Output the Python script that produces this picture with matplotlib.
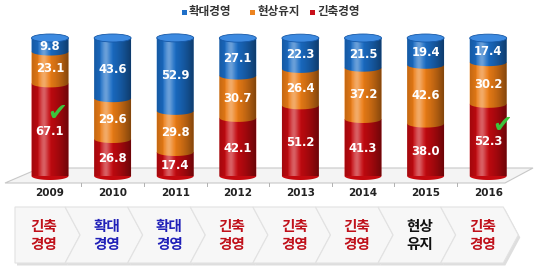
import numpy as np
import matplotlib
matplotlib.use("Agg")
import matplotlib.pyplot as plt
from matplotlib.patches import Polygon, Ellipse, Rectangle, PathPatch
from matplotlib.path import Path

plt.rcParams['font.family'] = ['Noto Sans CJK KR', 'DejaVu Sans']

years = ['2009', '2010', '2011', '2012', '2013', '2014', '2015', '2016']
contraction = [67.1, 26.8, 17.4, 42.1, 51.2, 41.3, 38.0, 52.3]   # 긴축경영
status_quo = [23.1, 29.6, 29.8, 30.7, 26.4, 37.2, 42.6, 30.2]    # 현상유지
expansion = [9.8, 43.6, 52.9, 27.1, 22.3, 21.5, 19.4, 17.4]      # 확대경영
series_names = ['확대경영', '현상유지', '긴축경영']
stance_labels = ['긴축\n경영', '확대\n경영', '확대\n경영', '긴축\n경영',
                 '긴축\n경영', '긴축\n경영', '현상\n유지', '긴축\n경영']
stance_kind = ['긴축', '확대', '확대', '긴축', '긴축', '긴축', '현상', '긴축']
check_years = ['2009', '2016']

W, H = 540, 277
fig = plt.figure(figsize=(W / 100, H / 100), dpi=100)
fig.patch.set_facecolor('white')

# background axes in pixel coordinates
bg = fig.add_axes([0, 0, 1, 1])
bg.set_xlim(0, W)
bg.set_ylim(H, 0)
bg.axis('off')

# floor platform
floor = Polygon([(5, 183), (505, 183), (533, 168), (40, 168)], closed=True,
                facecolor='#f4f4f4', edgecolor='#c8c8c8', lw=0.8, zorder=1)
bg.add_patch(floor)

# chevrons
period = 62.6
a = [15] + [2.5 + period * i for i in range(1, 9)]
notch = 15
y0, y1 = 207, 263
ym = (y0 + y1) / 2
stance_colors = {'긴축': '#c0101a', '확대': '#2020b8', '현상': '#111111'}
for i in range(8):
    left = a[i]
    right = a[i + 1]
    if i == 0:
        pts = [(left, y0), (right, y0), (right + notch, ym), (right, y1), (left, y1)]
    else:
        pts = [(left, y0), (right, y0), (right + notch, ym), (right, y1),
               (left, y1), (left + notch, ym)]
    sh = [(x + 2, y + 2.5) for x, y in pts]
    bg.add_patch(Polygon(sh, closed=True, facecolor='#d0d0d0', edgecolor='none',
                         alpha=0.7, zorder=1))
    bg.add_patch(Polygon(pts, closed=True, facecolor='#f7f7f7', edgecolor='#e2e2e2',
                         lw=0.8, zorder=2))
    cx = 44 + period * i
    bg.text(cx, ym, stance_labels[i], ha='center', va='center', fontsize=10.5,
            fontweight='bold', color=stance_colors[stance_kind[i]],
            linespacing=1.1, zorder=3)

# legend
leg_colors = ['#1f6fc8', '#ec8420', '#c8101a']
leg_x = [185, 253, 313]
for lx, c, name in zip(leg_x, leg_colors, series_names):
    bg.add_patch(Rectangle((lx - 3, 9.5), 5, 5, facecolor=c, edgecolor='none', zorder=3))
    bg.text(lx + 4, 12, name, ha='left', va='center', fontsize=8.3,
            color='#333333', fontweight='bold', zorder=3)

# bar axes: category i at pixel 50 + period*i, value 0 at y=176, 100 at y=38
xl = 50 - period / 2
ax = fig.add_axes([xl / W, (H - 176) / H, period * 8 / W, (176 - 38) / H])
ax.set_xlim(-0.5, 7.5)
ax.set_ylim(0, 100)
ax.axis('off')
ax.patch.set_alpha(0)

bw = 0.59
eh = 5.8  # ellipse height in data units
x = np.arange(len(years))
cols = {'red': '#c40a10', 'orange': '#ec7d16', 'blue': '#1a6cc4'}
cap_col = '#3d8ae0'


def seg_path(xc, ylo, yhi):
    t = np.linspace(np.pi, 2 * np.pi, 40)
    arc_x = xc + (bw / 2) * np.cos(t)
    arc_y = ylo + (eh / 2) * np.sin(t)
    verts = [(xc - bw / 2, yhi)] + list(zip(arc_x, arc_y)) + [(xc + bw / 2, yhi)]
    return Path(verts + [verts[0]], closed=True)


for i in range(len(years)):
    bottoms = [0, contraction[i], contraction[i] + status_quo[i]]
    vals = [contraction[i], status_quo[i], expansion[i]]
    cs = [cols['red'], cols['orange'], cols['blue']]
    total = sum(vals)
    for b, v, c in zip(bottoms, vals, cs):
        p = PathPatch(seg_path(x[i], b, b + v), facecolor=c, edgecolor='none',
                      zorder=2, clip_on=False)
        ax.add_patch(p)
    # shading gradient clipped to whole bar
    clip = PathPatch(seg_path(x[i], 0, total), facecolor='none', edgecolor='none',
                     transform=ax.transData)
    ax.add_patch(clip)
    g = np.linspace(0, 1, 64)
    dark = 0.45 * np.clip(np.abs(g - 0.35) / 0.65, 0, 1) ** 1.6
    light = 0.35 * np.exp(-((g - 0.32) / 0.12) ** 2)
    rgba = np.zeros((1, 64, 4))
    rgba[0, :, :3] = np.where(light[:, None] > dark[:, None], 1.0, 0.0)
    rgba[0, :, 3] = np.maximum(dark, light)
    im = ax.imshow(rgba, extent=[x[i] - bw / 2, x[i] + bw / 2, -eh, total],
                   aspect='auto', zorder=3, interpolation='bilinear')
    im.set_clip_path(clip)
    # top cap
    ax.add_patch(Ellipse((x[i], total), bw, eh, facecolor=cap_col,
                         edgecolor='#1558a8', lw=0.6, zorder=4, clip_on=False))
    # value labels
    for b, v in zip(bottoms, vals):
        ax.text(x[i], b + v / 2 - 1, f'{v:.1f}', ha='center', va='center',
                fontsize=8.4, fontweight='bold', color='white', zorder=5,
                family=['DejaVu Sans'])

# check marks (2009 check sits at ~46, 2016 at ~37 on the value scale)
check_pos = {'2009': (0.11, 46), '2016': (0.22, 37)}
for yr in check_years:
    i = years.index(yr)
    dx, yv = check_pos[yr]
    ax.text(x[i] + dx, yv, '\u2714', ha='center', va='center', fontsize=17,
            color='#3cc43c', zorder=6, family=['DejaVu Sans'], clip_on=False)

# year labels and ticks on background axes
for i, yr in enumerate(years):
    bg.text(50 + period * i, 193, yr, ha='center', va='center', fontsize=7.5,
            fontweight='bold', color='#222222', family=['DejaVu Sans'], zorder=3)
for k in range(1, 8):
    tx = xl + period * k
    bg.plot([tx, tx], [183, 186], color='#b0b0b0', lw=0.7, zorder=2)

fig.savefig('out.png', dpi=100, facecolor='white')
